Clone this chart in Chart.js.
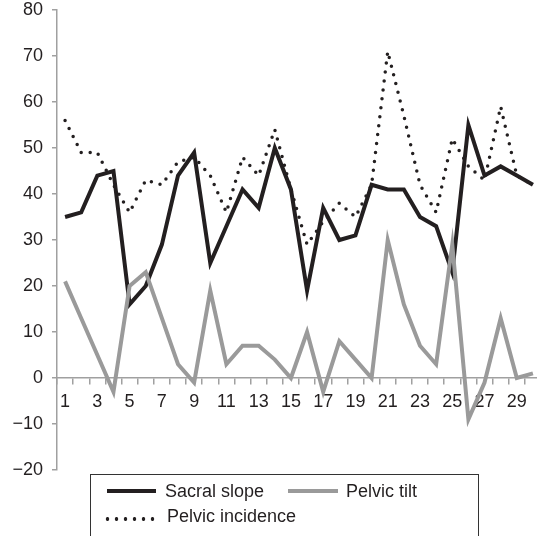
<!DOCTYPE html>
<html>
<head>
<meta charset="utf-8">
<script src="https://cdn.jsdelivr.net/npm/chart.js@4.4.1/dist/chart.umd.min.js"></script>
<style>
  html, body { margin: 0; padding: 0; background: #fff; overflow: hidden; }
  body {
    width: 537px;
    height: 536px;
    position: relative;
    font-family: "Liberation Sans", Arial, sans-serif;
    color: #231f20;
  }
  #grafico { position: absolute; left: 0; top: 0; }
  #caja { position: absolute; left: 90px; top: 474px; width: 389px; height: 80px; border: 1px solid #333; box-sizing: border-box; }
  .linea { position: absolute; height: 4px; }
  .texto { position: absolute; font-size: 18px; line-height: 18px; white-space: nowrap; }
  #puntos {
    position: absolute; left: 103px; top: 517px; width: 54px; height: 4px;
    background: radial-gradient(circle, #231f20 1.6px, transparent 2.1px) 0 0 / 9px 4px repeat-x;
  }
</style>
</head>
<body>
<canvas id="grafico" width="541" height="536"></canvas>

<div id="caja"></div>
<div class="linea" style="left:107px; top:489px; width:49px; background:#231f20;"></div>
<span class="texto" style="left:165px; top:482px;">Sacral slope</span>
<div class="linea" style="left:288px; top:489px; width:50px; background:#9a9a9a;"></div>
<span class="texto" style="left:346px; top:482px;">Pelvic tilt</span>
<div id="puntos"></div>
<span class="texto" style="left:167px; top:507px;">Pelvic incidence</span>

<script>
const categorias = ["1", "2", "3", "4", "5", "6", "7", "8", "9", "10",
  "11", "12", "13", "14", "15", "16", "17", "18", "19", "20",
  "21", "22", "23", "24", "25", "26", "27", "28", "29", "30"];

const etiquetasX = ["1", "3", "5", "7", "9", "11", "13", "15", "17", "19",
  "21", "23", "25", "27", "29"];

const sacralSlope = [35, 36, 44, 45, 16, 20, 29, 44, 49, 25,
  33, 41, 37, 50, 41, 19, 37, 30, 31, 42,
  41, 41, 35, 33, 23, 55, 44, 46, 44, 42];

const pelvicTilt = [21, 13, 5, -3, 20, 23, 13, 3, -1, 19,
  3, 7, 7, 4, 0, 10, -3, 8, 4, 0,
  30, 16, 7, 3, 29, -9, -1, 13, 0, 1];

const pelvicIncidence = [56, 49, 49, 42, 36, 43, 42, 47, 48, 44,
  36, 48, 44, 54, 41, 29, 34, 38, 35, 42,
  71, 57, 42, 36, 52, 46, 43, 59, 44, 42];

const ejeY = [-20, -10, 0, 10, 20, 30, 40, 50, 60, 70, 80];

const colorEje = "#a0a0a0";
const colorTexto = "#231f20";
const fuente = { family: "'Liberation Sans', Arial, sans-serif", size: 18 };

const canvas = document.getElementById("grafico");

new Chart(canvas, {
  type: "line",
  data: {
    labels: categorias,
    datasets: [
      {
        label: "Pelvic tilt",
        data: pelvicTilt,
        borderColor: "#9a9a9a",
        borderWidth: 4
      },
      {
        label: "Pelvic incidence",
        data: pelvicIncidence,
        borderColor: colorTexto,
        borderWidth: 3.5,
        borderDash: [0, 9],
        borderCapStyle: "round"
      },
      {
        label: "Sacral slope",
        data: sacralSlope,
        borderColor: colorTexto,
        borderWidth: 4
      }
    ]
  },
  options: {
    responsive: false,
    animation: false,
    layout: { padding: { top: 10, bottom: 66, left: 0, right: 0 } },
    elements: {
      point: { radius: 0 },
      line: { tension: 0, borderJoinStyle: "miter" }
    },
    plugins: {
      legend: { display: false },
      tooltip: { enabled: false }
    },
    scales: {
      x: {
        position: { y: 0 },
        offset: true,
        afterFit: (escala) => {
          escala.paddingTop = 0;
          escala.paddingBottom = 0;
        },
        grid: {
          offset: true,
          drawOnChartArea: false,
          tickLength: 6,
          color: colorEje,
          lineWidth: 1.5
        },
        border: { color: colorEje, width: 1.5 },
        ticks: {
          autoSkip: false,
          maxRotation: 0,
          padding: 7,
          color: colorTexto,
          font: fuente,
          callback: (valor, i) => etiquetasX.includes(categorias[i]) ? categorias[i] : ""
        }
      },
      y: {
        min: ejeY[0],
        max: ejeY[ejeY.length - 1],
        afterFit: (escala) => {
          escala.width = 57;
          escala.paddingTop = 0;
          escala.paddingBottom = 0;
        },
        grid: {
          drawOnChartArea: false,
          tickLength: 5,
          color: colorEje,
          lineWidth: 1.5
        },
        border: { color: colorEje, width: 1.5 },
        ticks: {
          stepSize: 10,
          padding: 9,
          color: colorTexto,
          font: fuente,
          callback: (valor) => String(valor).replace("-", "\u2212")
        }
      }
    }
  }
});
</script>
</body>
</html>
